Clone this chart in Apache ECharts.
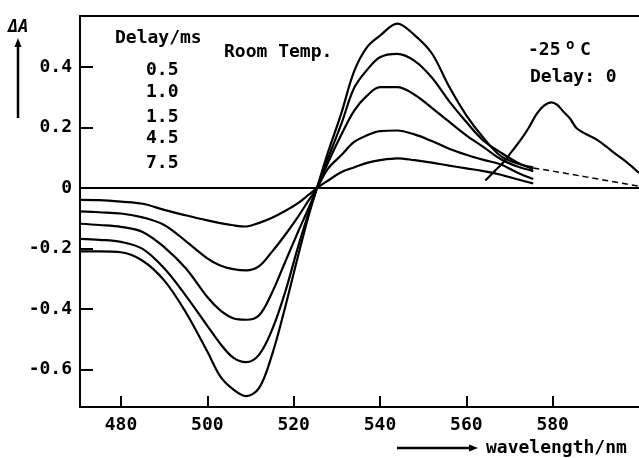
<!DOCTYPE html>
<html>
<head>
<meta charset="utf-8">
<script src="https://cdn.jsdelivr.net/npm/echarts@6/dist/echarts.min.js"></script>
<style>
html,body{margin:0;padding:0;background:#fff;}
#chart{width:639px;height:458px;}
</style>
</head>
<body>
<div id="chart"></div>
<script>
// Wavelength grid (nm) for the room-temperature spectra
const wavelengthRT = [470.5, 475, 480, 485, 490, 495, 500, 503, 506, 509, 512, 515, 518, 521, 523.5, 525.4,
  528, 531, 534, 537, 540, 544, 548, 552, 556, 560, 564, 568, 572, 575.5];
// Delay-time labels
const delays = ['0.5', '1.0', '1.5', '4.5', '7.5'];
// ΔA values for each delay
const dA_05 = [-0.209, -0.209, -0.212, -0.240, -0.305, -0.410, -0.540, -0.622, -0.665, -0.687, -0.660, -0.550, -0.395, -0.225, -0.090, 0,
  0.120, 0.245, 0.385, 0.465, 0.503, 0.543, 0.505, 0.445, 0.335, 0.240, 0.165, 0.105, 0.080, 0.068];
const dA_10 = [-0.168, -0.171, -0.178, -0.201, -0.265, -0.355, -0.455, -0.514, -0.560, -0.575, -0.550, -0.468, -0.345, -0.195, -0.080, 0,
  0.100, 0.210, 0.330, 0.390, 0.432, 0.443, 0.420, 0.365, 0.287, 0.218, 0.156, 0.117, 0.083, 0.062];
const dA_15 = [-0.118, -0.122, -0.128, -0.145, -0.195, -0.265, -0.360, -0.404, -0.430, -0.435, -0.420, -0.345, -0.245, -0.145, -0.065, 0,
  0.085, 0.175, 0.255, 0.305, 0.333, 0.333, 0.308, 0.265, 0.219, 0.174, 0.135, 0.095, 0.070, 0.056];
const dA_45 = [-0.077, -0.080, -0.084, -0.097, -0.122, -0.175, -0.232, -0.256, -0.268, -0.272, -0.258, -0.210, -0.155, -0.095, -0.040, 0,
  0.065, 0.108, 0.152, 0.174, 0.188, 0.190, 0.177, 0.155, 0.130, 0.110, 0.093, 0.078, 0.050, 0.030];
const dA_75 = [-0.039, -0.040, -0.045, -0.052, -0.072, -0.090, -0.107, -0.116, -0.123, -0.127, -0.115, -0.098, -0.076, -0.050, -0.022, 0,
  0.025, 0.052, 0.068, 0.083, 0.092, 0.098, 0.092, 0.084, 0.074, 0.065, 0.056, 0.044, 0.028, 0.015];
// -25 °C, delay 0 spectrum
const wavelengthLT = [564.4, 566.5, 568.6, 570.5, 572.5, 574.5, 576.3, 578, 579.7, 581, 582.5, 584.1, 585.5, 587.1, 590.2, 592.6, 594.1, 597.2, 600];
const dA_LT = [0.025, 0.055, 0.085, 0.120, 0.157, 0.200, 0.245, 0.272, 0.283, 0.275, 0.252, 0.228, 0.198, 0.183, 0.160, 0.135, 0.118, 0.085, 0.050];
// dashed continuation
const wavelengthDash = [575.5, 580, 584, 588, 592, 596, 600];
const dA_dash = [0.066, 0.056, 0.046, 0.036, 0.026, 0.016, 0.006];
// tick labels
const xTicks = [480, 500, 520, 540, 560, 580];
const yTicks = [-0.6, -0.4, -0.2, 0, 0.2, 0.4];

const FONT = 'DejaVu Sans Mono';
const pair = (xs, ys) => xs.map((x, i) => [x, ys[i]]);
const rtSets = [dA_05, dA_10, dA_15, dA_45, dA_75];

const lineBase = {
  type: 'line', symbol: 'none', smooth: 0.35, silent: true,
  xAxisIndex: 0, yAxisIndex: 0,
  lineStyle: { color: '#000', width: 2.2 }
};

const series = rtSets.map((d, i) => Object.assign({}, lineBase, {
  name: delays[i] + ' ms', data: pair(wavelengthRT, d)
}));
series[0].markLine = {
  silent: true, symbol: 'none', label: { show: false },
  lineStyle: { color: '#000', width: 2, type: 'solid' },
  data: [{ yAxis: 0 }]
};
series.push(Object.assign({}, lineBase, { name: '-25 °C', data: pair(wavelengthLT, dA_LT) }));
series.push(Object.assign({}, lineBase, {
  name: 'dash', smooth: false, data: pair(wavelengthDash, dA_dash),
  lineStyle: { color: '#000', width: 1.5, type: [6, 4] }
}));

const F18 = 'bold 18px "' + FONT + '"';
const T = (x, y, s, font) => ({ type: 'text', x: x, y: y, style: { text: s, font: font || F18, fill: '#000', verticalAlign: 'middle' } });

const graphic = [
  T(8, 28, 'ΔA', 'bold italic 17px "' + FONT + '"'),
  { type: 'line', shape: { x1: 18, y1: 118, x2: 18, y2: 44 }, style: { stroke: '#000', lineWidth: 2.5 } },
  { type: 'polygon', shape: { points: [[18, 38], [14.5, 47], [21.5, 47]] }, style: { fill: '#000' } },
  T(115, 38, 'Delay/ms'),
  T(224, 52, 'Room Temp.'),
  T(528, 50, '-25'),
  T(566, 45, 'o', 'bold 14px "' + FONT + '"'),
  T(580, 50, 'C'),
  T(530, 77, 'Delay: 0'),
  T(486, 448, 'wavelength/nm'),
  { type: 'line', shape: { x1: 397, y1: 448, x2: 470, y2: 448 }, style: { stroke: '#000', lineWidth: 2.5 } },
  { type: 'polygon', shape: { points: [[478, 448], [469, 444.5], [469, 451.5]] }, style: { fill: '#000' } }
];
const delayY = [70, 92, 117, 138, 163];
delays.forEach((d, i) => graphic.push(T(146, delayY[i], d)));

const chart = echarts.init(document.getElementById('chart'), null, { renderer: 'canvas' });
chart.setOption({
  animation: false,
  backgroundColor: '#fff',
  grid: { left: 80, right: 0, top: 16, bottom: 51, show: false },
  xAxis: [{
    type: 'value', min: 470.5, max: 600, position: 'bottom',
    axisLine: { show: true, onZero: false, lineStyle: { color: '#000', width: 2 } },
    splitLine: { show: false },
    axisTick: { show: true, inside: true, length: 11, customValues: xTicks, lineStyle: { color: '#000', width: 2 } },
    axisLabel: { show: true, customValues: xTicks, margin: 9, color: '#000', fontFamily: FONT, fontWeight: 'bold', fontSize: 18 }
  }, {
    type: 'value', min: 470.5, max: 600, position: 'top',
    axisLine: { show: true, onZero: false, lineStyle: { color: '#000', width: 2 } },
    splitLine: { show: false }, axisTick: { show: false }, axisLabel: { show: false }
  }],
  yAxis: {
    type: 'value', min: -0.723, max: 0.568,
    axisLine: { show: true, onZero: false, lineStyle: { color: '#000', width: 2 } },
    splitLine: { show: false },
    axisTick: { show: true, inside: true, length: 13, customValues: yTicks, lineStyle: { color: '#000', width: 2 } },
    axisLabel: { show: true, customValues: yTicks, margin: 8, color: '#000', fontFamily: FONT, fontWeight: 'bold', fontSize: 18,
      formatter: v => (Math.abs(v) < 1e-9 ? '0' : String(Math.round(v * 10) / 10)) }
  },
  series: series,
  graphic: graphic
});
</script>
</body>
</html>
